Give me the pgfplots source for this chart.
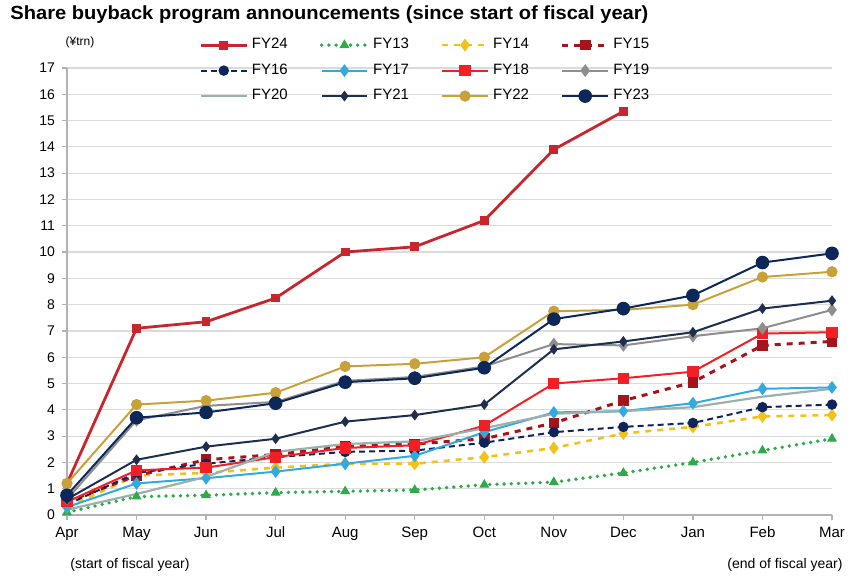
\documentclass[border=0pt]{standalone}
\usepackage{pgfplots}
\pgfplotsset{compat=1.18}
\usepackage{fontspec}
\setmainfont{Liberation Sans}
\usepackage{graphicx}
\definecolor{cFY24}{HTML}{C8262C}
\definecolor{cFY13}{HTML}{2EAA4A}
\definecolor{cFY14}{HTML}{F2C219}
\definecolor{cFY15}{HTML}{A3141C}
\definecolor{cFY16}{HTML}{10245A}
\definecolor{cFY17}{HTML}{33AADF}
\definecolor{cFY18}{HTML}{F21F25}
\definecolor{cFY19}{HTML}{8E8E8E}
\definecolor{cFY20}{HTML}{9DB0AC}
\definecolor{cFY21}{HTML}{1E2E4E}
\definecolor{cFY22}{HTML}{C9A13B}
\definecolor{cFY23}{HTML}{0D2858}
\begin{document}
\begin{tikzpicture}
\begin{axis}[
  name=ax,
  width=382.5pt, height=223.5pt, scale only axis,
  xmin=0, xmax=11, ymin=0, ymax=17,
  xtick={0,...,11},
  xticklabels={Apr,May,Jun,Jul,Aug,Sep,Oct,Nov,Dec,Jan,Feb,Mar},
  ytick={0,...,17},
  axis x line*=bottom, axis y line*=left,
  axis line style={-, draw=gray!60, line width=0.7pt},
  ymajorgrids, grid style={gray!28, line width=0.6pt},
  tick align=outside, major tick length=2.5pt,
  tick style={gray!60, line width=0.6pt},
  /pgf/number format/assume math mode=true,
  ticklabel style={font=\fontsize{7}{8}\selectfont},
  xticklabel style={font=\fontsize{7.5}{8}\selectfont},
  legend columns=4,
  legend style={at={(0.165,1.085)}, anchor=north west, draw=none, fill=none,
    font=\fontsize{7.5}{8}\selectfont, row sep=2pt,
    /tikz/every even column/.append style={column sep=14pt}},
  legend cell align=left,
  legend image code/.code={\draw[mark repeat=2,mark phase=2,#1] plot coordinates {(0cm,0cm) (0.4cm,0cm) (0.8cm,0cm)};},
]
% FY24
\addplot[cFY24, line width=1.4pt, mark=square*, mark size=1.5pt] coordinates {
(0,1.2) (1,7.1) (2,7.35) (3,8.25) (4,10.0) (5,10.2) (6,11.2) (7,13.9) (8,15.35)};
\addlegendentry{FY24}
% FY13
\addplot[cFY13, line width=1.9pt, line cap=round, dash pattern=on 0pt off 3.6pt, mark=triangle*, mark size=2.4pt, mark options={solid, line width=0.5pt}] coordinates {
(0,0.1) (1,0.7) (2,0.75) (3,0.85) (4,0.9) (5,0.95) (6,1.15) (7,1.25) (8,1.6) (9,2.0) (10,2.45) (11,2.9)};
\addlegendentry{FY13}
% FY14
\addplot[cFY14, line width=1.3pt, dashed, mark=diamond*, mark size=2.2pt, mark options={solid}] coordinates {
(0,0.3) (1,1.5) (2,1.6) (3,1.8) (4,1.95) (5,1.95) (6,2.2) (7,2.55) (8,3.1) (9,3.35) (10,3.75) (11,3.8)};
\addlegendentry{FY14}
% FY15
\addplot[cFY15, line width=1.5pt, dashed, mark=square*, mark size=1.9pt, mark options={solid}] coordinates {
(0,0.5) (1,1.5) (2,2.1) (3,2.3) (4,2.6) (5,2.7) (6,2.9) (7,3.5) (8,4.35) (9,5.05) (10,6.45) (11,6.6)};
\addlegendentry{FY15}
% FY16
\addplot[cFY16, line width=1pt, densely dashed, mark=*, mark size=2.1pt, mark options={solid}] coordinates {
(0,0.4) (1,1.6) (2,1.95) (3,2.2) (4,2.4) (5,2.45) (6,2.75) (7,3.15) (8,3.35) (9,3.5) (10,4.1) (11,4.2)};
\addlegendentry{FY16}
% FY17
\addplot[cFY17, line width=1pt, mark=diamond*, mark size=2.4pt] coordinates {
(0,0.3) (1,1.2) (2,1.4) (3,1.65) (4,1.95) (5,2.25) (6,3.15) (7,3.9) (8,3.95) (9,4.25) (10,4.8) (11,4.85)};
\addlegendentry{FY17}
% FY18
\addplot[cFY18, line width=1pt, mark=square*, mark size=2.3pt] coordinates {
(0,0.5) (1,1.7) (2,1.8) (3,2.2) (4,2.55) (5,2.65) (6,3.4) (7,5.0) (8,5.2) (9,5.45) (10,6.9) (11,6.95)};
\addlegendentry{FY18}
% FY19
\addplot[cFY19, line width=1pt, mark=diamond*, mark size=2.4pt] coordinates {
(0,0.6) (1,3.6) (2,4.15) (3,4.3) (4,5.1) (5,5.25) (6,5.65) (7,6.5) (8,6.45) (9,6.8) (10,7.1) (11,7.8)};
\addlegendentry{FY19}
% FY20
\addplot[cFY20, line width=1.1pt, no marks] coordinates {
(0,0.2) (1,0.8) (2,1.45) (3,2.4) (4,2.7) (5,2.8) (6,3.3) (7,3.85) (8,3.95) (9,4.1) (10,4.5) (11,4.8)};
\addlegendentry{FY20}
% FY21
\addplot[cFY21, line width=1pt, mark=diamond*, mark size=1.9pt] coordinates {
(0,0.6) (1,2.1) (2,2.6) (3,2.9) (4,3.55) (5,3.8) (6,4.2) (7,6.3) (8,6.6) (9,6.95) (10,7.85) (11,8.15)};
\addlegendentry{FY21}
% FY22
\addplot[cFY22, line width=1pt, mark=*, mark size=2.3pt] coordinates {
(0,1.2) (1,4.2) (2,4.35) (3,4.65) (4,5.65) (5,5.75) (6,6.0) (7,7.75) (8,7.8) (9,8.0) (10,9.05) (11,9.25)};
\addlegendentry{FY22}
% FY23
\addplot[cFY23, line width=1pt, mark=*, mark size=2.9pt] coordinates {
(0,0.75) (1,3.7) (2,3.9) (3,4.25) (4,5.05) (5,5.2) (6,5.6) (7,7.45) (8,7.85) (9,8.35) (10,9.6) (11,9.95)};
\addlegendentry{FY23}
\end{axis}
\node[anchor=west, inner sep=0pt] at (-28.5pt,250pt) {\resizebox{319pt}{\height}{\bfseries\fontsize{9.5}{11}\selectfont Share buyback program announcements (since start of fiscal year)}};
\node[inner sep=0pt] at (6.5pt,236.5pt) {\fontsize{6}{7}\selectfont (¥trn)};
\node[inner sep=0pt] at (31.5pt,-25pt) {\fontsize{7}{8}\selectfont (start of fiscal year)};
\node[inner sep=0pt] at (359pt,-25pt) {\fontsize{7}{8}\selectfont (end of fiscal year)};
\pgfresetboundingbox
\path[use as bounding box] (-33.5pt,-31pt) rectangle (398pt,257.5pt);
\end{tikzpicture}
\end{document}
